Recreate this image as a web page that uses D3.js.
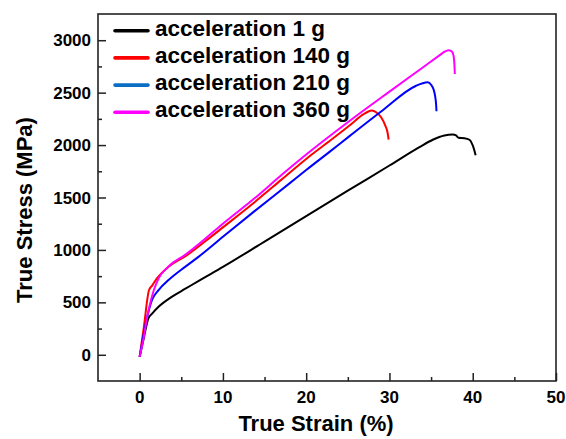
<!DOCTYPE html>
<html>
<head>
<meta charset="utf-8">
<script src="https://cdn.jsdelivr.net/npm/d3@7"></script>
<style>
    body { margin: 0; background: #fff; }
    svg text { font-family: "Liberation Sans", Arial, sans-serif; font-weight: bold; fill: #000; }
</style>
</head>
<body>
<svg id="chart" width="566" height="439"></svg>
<script>
'use strict';

// data: [strain %, stress MPa]
const series_names = ['acceleration 1 g', 'acceleration 140 g', 'acceleration 210 g', 'acceleration 360 g'];

const curve_1g = [
    [0, -20], [0.5, 160], [1.04, 345], [1.5, 392], [2.3, 460], [3.9, 555], [5.5, 630],
    [7.2, 710], [10, 838], [15, 1080], [20, 1323], [25, 1565], [30, 1805], [33.6, 1980],
    [35.2, 2051], [36.6, 2092], [37.6, 2101], [38.0, 2092], [38.3, 2070], [39.0, 2066],
    [39.6, 2051], [40.0, 1997], [40.2, 1949], [40.35, 1902]
];

const curve_140g = [
    [0, -20], [0.5, 260], [1.12, 615], [1.5, 660], [2.1, 731], [3.5, 841], [5.5, 940],
    [8, 1090], [10, 1215], [13.8, 1455], [17, 1668], [20, 1868], [23, 2050], [25.2, 2186],
    [26.8, 2290], [27.4, 2318], [27.9, 2329], [28.4, 2313], [29.0, 2265], [29.5, 2186],
    [29.8, 2108], [29.9, 2051]
];

const curve_210g = [
    [0, -20], [0.92, 366], [1.5, 525], [2.3, 620], [3.5, 715], [5.5, 841], [7.1, 936],
    [10, 1125], [13.8, 1370], [18, 1635], [20, 1762], [22.8, 1935], [25.2, 2085], [29, 2320],
    [33.2, 2566], [34.0, 2590], [34.6, 2598], [35.0, 2575], [35.3, 2530], [35.5, 2460],
    [35.6, 2390], [35.65, 2322]
];

const curve_360g = [
    [0, -20], [0.5, 170], [0.92, 366], [1.32, 509], [1.72, 620], [2.3, 731], [3.5, 845],
    [5.5, 955], [8, 1115], [10, 1250], [13.8, 1492], [17, 1712], [20, 1910], [25.2, 2230],
    [30, 2510], [34, 2740], [36, 2855], [36.6, 2890], [37.1, 2905], [37.5, 2892],
    [37.7, 2851], [37.8, 2772], [37.85, 2677]
];

const x_ticks = [0, 10, 20, 30, 40, 50];
const y_ticks = [0, 500, 1000, 1500, 2000, 2500, 3000];

const curves = [curve_1g, curve_140g, curve_210g, curve_360g];
const line_colors = ['#000000', '#ff0000', '#0000ff', '#ff00ff'];
const legend_colors = ['#000000', '#ff0000', '#0a6ec4', '#ff00ff'];

const margin = { top: 14, right: 10, bottom: 58, left: 98 };
const width = 566;
const height = 439;

const svg = d3.select('#chart');

const x = d3.scaleLinear()
    .domain([-5, 50])
    .range([margin.left, width - margin.right]);

const y = d3.scaleLinear()
    .domain([-250, 3250])
    .range([height - margin.bottom, margin.top]);

// frame
svg.append('rect')
    .attr('x', x(-5))
    .attr('y', y(3250))
    .attr('width', x(50) - x(-5))
    .attr('height', y(-250) - y(3250))
    .attr('fill', 'none')
    .attr('stroke', '#222')
    .attr('stroke-width', 1.6);

// x axis, ticks pointing inward
const x_axis = svg.append('g')
    .attr('transform', `translate(0, ${y(-250)})`)
    .call(d3.axisTop(x).tickValues(x_ticks).tickSize(8).tickFormat(''));
x_axis.select('.domain').remove();
x_axis.selectAll('line').attr('stroke', '#222').attr('stroke-width', 1.5);

const x_minor = svg.append('g')
    .attr('transform', `translate(0, ${y(-250)})`)
    .call(d3.axisTop(x).tickValues(d3.range(5, 50, 10)).tickSize(4).tickFormat(''));
x_minor.select('.domain').remove();
x_minor.selectAll('line').attr('stroke', '#222').attr('stroke-width', 1.5);

svg.append('g')
    .selectAll('text')
    .data(x_ticks)
    .join('text')
        .attr('x', d => x(d))
        .attr('y', 403)
        .attr('text-anchor', 'middle')
        .attr('font-size', 17)
        .text(d => d);

// y axis
const y_axis = svg.append('g')
    .attr('transform', `translate(${x(-5)}, 0)`)
    .call(d3.axisRight(y).tickValues(y_ticks).tickSize(8).tickFormat(''));
y_axis.select('.domain').remove();
y_axis.selectAll('line').attr('stroke', '#222').attr('stroke-width', 1.5);

const y_minor = svg.append('g')
    .attr('transform', `translate(${x(-5)}, 0)`)
    .call(d3.axisRight(y).tickValues(d3.range(250, 3250, 500)).tickSize(4).tickFormat(''));
y_minor.select('.domain').remove();
y_minor.selectAll('line').attr('stroke', '#222').attr('stroke-width', 1.5);

svg.append('g')
    .selectAll('text')
    .data(y_ticks)
    .join('text')
        .attr('x', 91)
        .attr('y', d => y(d) + 6)
        .attr('text-anchor', 'end')
        .attr('font-size', 17)
        .text(d => d);

// axis titles
svg.append('text')
    .attr('x', 316)
    .attr('y', 431)
    .attr('text-anchor', 'middle')
    .attr('font-size', 22)
    .text('True Strain (%)');

svg.append('text')
    .attr('transform', `translate(32, 210) rotate(-90)`)
    .attr('text-anchor', 'middle')
    .attr('font-size', 22)
    .text('True Stress (MPa)');

// curves
const line = d3.line()
    .x(d => x(d[0]))
    .y(d => y(d[1]))
    .curve(d3.curveMonotoneX);

svg.append('g')
    .selectAll('path')
    .data(curves)
    .join('path')
        .attr('d', line)
        .attr('fill', 'none')
        .attr('stroke', (d, i) => line_colors[i])
        .attr('stroke-width', 2)
        .attr('stroke-linejoin', 'round');

// legend
const legend = svg.append('g')
    .selectAll('g')
    .data(series_names)
    .join('g')
        .attr('transform', (d, i) => `translate(115, ${30.7 + i * 27.2})`);

legend.append('line')
    .attr('x1', 0)
    .attr('x2', 33)
    .attr('stroke', (d, i) => legend_colors[i])
    .attr('stroke-width', 3.6)
    .attr('stroke-linecap', 'round');

legend.append('text')
    .attr('x', 40)
    .attr('y', 5)
    .attr('font-size', 22.5)
    .text(d => d);
</script>
</body>
</html>
